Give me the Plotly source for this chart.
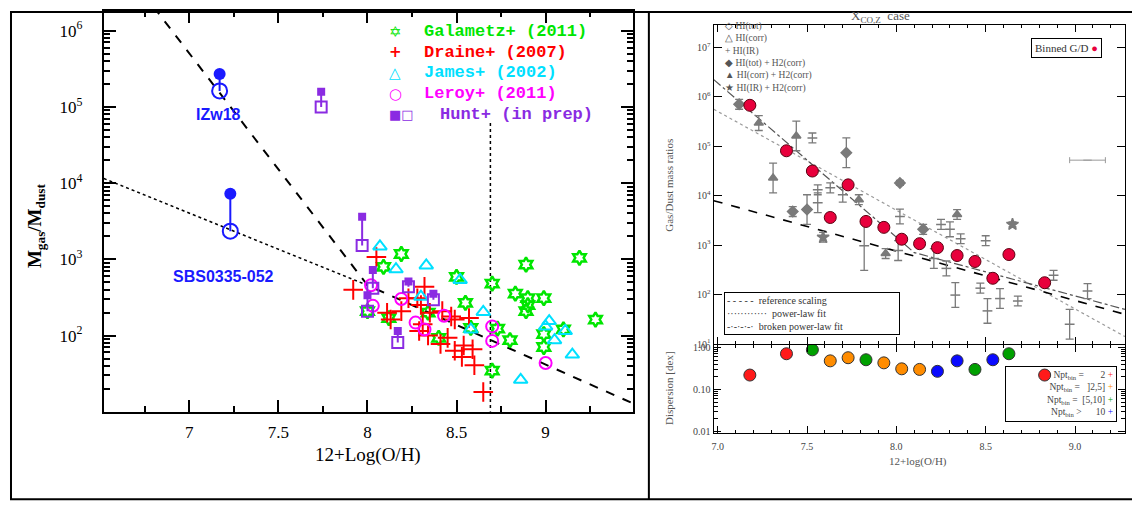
import numpy as np
import plotly.graph_objects as go

FIG_W, FIG_H = 1140, 509
PAGE_OFF = 8  # the page body margin shifts the figure; layout positions below are screen pixels

# ---------------- left panel: M_gas/M_dust vs 12+Log(O/H)  (y values are log10) ----------------
GAL_X = [8.19, 8.09, 8.50, 8.55, 8.12, 8.00, 8.34, 8.40, 8.58, 8.70, 8.70, 9.19,
         8.89, 8.83, 8.90, 8.99, 8.90, 8.89, 9.28, 8.73, 8.80, 8.99, 8.99, 9.10]
GAL_LOG = [3.07, 2.90, 2.77, 2.43, 2.23, 2.32, 2.30, 1.97, 2.10, 2.68, 1.54, 3.02,
           2.93, 2.55, 2.49, 2.49, 2.40, 2.32, 2.21, 2.09, 1.94, 2.02, 1.85, 2.08]

DRA_X = [8.05, 7.92, 8.32, 8.23, 8.28, 8.11, 8.13, 8.19, 8.30, 8.35, 8.29, 8.34, 8.31,
         8.42, 8.47, 8.49, 8.57, 8.41, 8.45, 8.49, 8.54, 8.59, 8.53, 8.60, 8.65]
DRA_LOG = [3.03, 2.60, 2.64, 2.49, 2.49, 2.30, 2.21, 2.32, 2.40, 2.30, 2.06, 2.00, 2.15,
           2.32, 2.25, 2.21, 2.23, 1.89, 1.97, 1.80, 1.87, 1.82, 1.72, 1.61, 1.26]

JAM_X = [8.07, 8.16, 8.33, 8.30, 8.52, 8.65, 8.58, 9.02, 9.05, 9.11, 9.15, 8.86, 9.00]
JAM_LOG = [3.17, 2.87, 2.92, 2.51, 2.73, 2.31, 2.08, 2.19, 1.94, 2.06, 1.75, 1.42, 2.12]

LER_X = [8.02, 8.03, 8.19, 8.27, 8.32, 8.43, 8.70, 8.70, 9.00]
LER_LOG = [2.66, 2.39, 2.48, 2.17, 2.08, 2.26, 2.12, 1.93, 1.64]

HUNT_X = [7.74, 7.97, 8.03, 8.00, 8.23, 8.37, 8.17]
HUNT_FILLED_LOG = [5.20, 3.56, 2.86, 2.53, 2.71, 2.55, 2.06]
HUNT_OPEN_LOG = [5.00, 3.18, 2.62, 2.32, 2.64, 2.47, 1.91]

BCD_NAMES = ["IZw18", "SBS0335-052"]
BCD_X = [7.17, 7.23]
BCD_FILLED_LOG = [5.43, 3.86]
BCD_OPEN_LOG = [5.21, 3.37]

BROKEN_X = [6.80, 8.00, 9.49]
BROKEN_LOG = [6.31, 2.66, 1.11]
EXTRAP_X = [6.52, 8.00]
EXTRAP_LOG = [4.06, 2.66]
SOLAR_X = 8.69
SOLAR_LOG = [4.79, 1.0]

# ---------------- right panel: Gas/Dust mass ratios (log10) ----------------
BIN_X = [7.18, 7.385, 7.53, 7.63, 7.73, 7.83, 7.93, 8.03, 8.13, 8.23, 8.34, 8.44, 8.54, 8.63, 8.83]
BIN_LOG = [5.83, 4.91, 4.50, 3.56, 4.22, 3.48, 3.36, 3.12, 3.03, 2.95, 2.79, 2.67, 2.33, 2.81, 2.24]
DISP = [0.22, 0.71, 0.88, 0.48, 0.57, 0.51, 0.43, 0.31, 0.30, 0.27, 0.48, 0.30, 0.51, 0.71, 0.22]
NPT_CLASS = ["2", "2", "5-10", "2-5", "2-5", "5-10", "2-5", "2-5", "2-5",
             ">10", ">10", "5-10", ">10", "5-10", "2"]

GREY_X = [7.12, 7.23, 7.44, 7.53, 7.72, 7.31, 7.42, 7.50, 7.56, 7.59, 7.56, 7.63, 7.70,
          7.79, 7.82, 7.94, 8.02, 8.02, 8.01, 8.34, 8.25, 8.30, 8.36, 8.50, 8.65, 8.15,
          8.21, 8.28, 8.33, 8.47, 8.51, 8.58, 8.68, 8.88, 9.07, 8.97]
GREY_LOG = [5.85, 5.47, 5.21, 5.17, 4.87, 4.36, 3.68, 3.72, 3.86, 3.16, 4.12, 4.16, 4.02,
            3.92, 2.99, 2.83, 4.26, 3.58, 2.89, 3.62, 3.42, 3.32, 3.13, 3.09, 3.42, 3.32,
            2.73, 2.53, 1.99, 2.13, 1.67, 1.92, 1.87, 2.39, 2.07, 1.40]
GREY_ERR = [0.10, 0.15, 0.30, 0.10, 0.30, 0.30, 0.10, 0.30, 0.20, 0.10, 0.10, 0.10, 0.15,
            0.10, 0.50, 0.10, 0.05, 0.15, 0.20, 0.10, 0.10, 0.15, 0.10, 0.10, 0.05, 0.10,
            0.20, 0.15, 0.25, 0.10, 0.25, 0.20, 0.10, 0.10, 0.15, 0.30]
GREY_KIND = ["diamond", "triangle-up", "triangle-up", "bar", "diamond", "triangle-up",
             "diamond", "diamond", "bar", "star", "bar", "bar", "bar", "triangle-up", "bar",
             "triangle-up", "diamond", "bar", "bar", "triangle-up", "bar", "bar", "bar", "bar",
             "star", "diamond", "bar", "bar", "bar", "bar", "bar", "bar", "bar", "bar", "bar", "bar"]
TYP_ERR_X, TYP_ERR_LOG, TYP_ERR_DX = 9.07, 4.72, 0.10

REF_X, REF_LOG = [6.978, 9.28], [3.90, 1.60]
PL_X, PL_LOG = [6.978, 9.28], [5.75, 1.15]
BPL_X, BPL_LOG = [6.978, 8.10, 9.28], [6.35, 2.85, 1.70]

GREEN, RED, CYAN, MAGENTA, PURPLE, BLUE = "#00e600", "#ff0000", "#00e0ff", "#ff00ff", "#8a2be2", "#1a1aff"
GREY = "#7a7a7a"
NPT_COLOR = {"2": "#ff1a1a", "2-5": "#ff8c00", "5-10": "#00a000", ">10": "#0a0aff"}
SERIF = "Liberation Serif"


def px(x):
    return (max(x, PAGE_OFF) - PAGE_OFF) / FIG_W


def py(y):
    return 1 - (max(y, PAGE_OFF) - PAGE_OFF) / FIG_H


def lin(logs):
    return 10 ** np.asarray(logs, dtype=float)


fig = go.Figure()

# reference lines (left)
fig.add_trace(go.Scatter(x=BROKEN_X, y=lin(BROKEN_LOG), mode="lines",
                         line=dict(color="black", width=2, dash="dash"), xaxis="x", yaxis="y"))
fig.add_trace(go.Scatter(x=EXTRAP_X, y=lin(EXTRAP_LOG), mode="lines",
                         line=dict(color="black", width=1.5, dash="dot"), xaxis="x", yaxis="y"))
fig.add_trace(go.Scatter(x=[SOLAR_X, SOLAR_X], y=lin(SOLAR_LOG), mode="lines",
                         line=dict(color="black", width=1.5, dash="dot"), xaxis="x", yaxis="y"))

fig.add_trace(go.Scatter(x=GAL_X, y=lin(GAL_LOG), mode="markers",
                         marker=dict(symbol="hexagram-open", size=11, color=GREEN, line=dict(width=2.5))))
fig.add_trace(go.Scatter(x=DRA_X, y=lin(DRA_LOG), mode="markers",
                         marker=dict(symbol="cross-thin-open", size=14, color=RED, line=dict(width=2, color=RED))))
fig.add_trace(go.Scatter(x=JAM_X, y=lin(JAM_LOG), mode="markers",
                         marker=dict(symbol="triangle-up-open", size=12, color=CYAN, line=dict(width=2))))
fig.add_trace(go.Scatter(x=LER_X, y=lin(LER_LOG), mode="markers",
                         marker=dict(symbol="circle-open", size=12, color=MAGENTA, line=dict(width=2))))

# Hunt pairs + BCD pairs: connector, filled, open
for xs, f_log, o_log, col, fsym, osym, fsize in [
    (HUNT_X, HUNT_FILLED_LOG, HUNT_OPEN_LOG, PURPLE, "square", "square-open", 8),
    (BCD_X, BCD_FILLED_LOG, BCD_OPEN_LOG, BLUE, "circle", "circle-open", 12),
]:
    cx, cy = [], []
    for x, a, b in zip(xs, f_log, o_log):
        cx += [x, x, None]
        cy += [10 ** a, 10 ** b, None]
    fig.add_trace(go.Scatter(x=cx, y=cy, mode="lines", line=dict(color=col, width=2)))
    fig.add_trace(go.Scatter(x=xs, y=lin(f_log), mode="markers",
                             marker=dict(symbol=fsym, size=fsize, color=col)))
    fig.add_trace(go.Scatter(x=xs, y=lin(o_log), mode="markers",
                             marker=dict(symbol=osym, size=fsize + 3, color=col, line=dict(width=2))))

# ---------------- right panel traces ----------
for xs, ls, dash, col, w in [(PL_X, PL_LOG, "dot", "#9a9a9a", 1.2),
                             (BPL_X, BPL_LOG, "dashdot", "#555555", 1.2),
                             (REF_X, REF_LOG, "dash", "black", 1.6)]:
    fig.add_trace(go.Scatter(x=xs, y=lin(ls), mode="lines", line=dict(color=col, width=w, dash=dash),
                             xaxis="x2", yaxis="y2"))

for kind, sym, size in [("bar", "line-ew-open", 7), ("diamond", "diamond", 8),
                        ("triangle-up", "triangle-up", 8), ("star", "star", 9)]:
    idx = [i for i, k in enumerate(GREY_KIND) if k == kind]
    gl = np.array([GREY_LOG[i] for i in idx])
    ge = np.array([GREY_ERR[i] for i in idx])
    gy = 10 ** gl
    fig.add_trace(go.Scatter(
        x=[GREY_X[i] for i in idx], y=gy, mode="markers", xaxis="x2", yaxis="y2",
        marker=dict(symbol=sym, size=size, color=GREY, line=dict(color=GREY, width=1.5)),
        error_y=dict(type="data", array=10 ** (gl + ge) - gy, arrayminus=gy - 10 ** (gl - ge),
                     color=GREY, thickness=1.3, width=4)))

fig.add_trace(go.Scatter(x=[TYP_ERR_X], y=[10 ** TYP_ERR_LOG], mode="markers", xaxis="x2", yaxis="y2",
                         marker=dict(symbol="line-ew-open", size=6, color="#999", line=dict(color="#999", width=1)),
                         error_x=dict(type="constant", value=TYP_ERR_DX, color="#999", thickness=1, width=3)))

fig.add_trace(go.Scatter(x=BIN_X, y=lin(BIN_LOG), mode="markers", xaxis="x2", yaxis="y2",
                         marker=dict(symbol="circle", size=12, color="#e8003c",
                                     line=dict(color="#5a0010", width=1))))

fig.add_trace(go.Scatter(x=BIN_X, y=DISP, mode="markers", xaxis="x3", yaxis="y3",
                         marker=dict(symbol="circle", size=12,
                                     color=[NPT_COLOR[c] for c in NPT_CLASS],
                                     line=dict(color="#333", width=1))))

# ---------------- axes ----------------
left_font = dict(family=SERIF, size=17, color="black")
common_left = dict(showline=True, linewidth=2, linecolor="black", mirror="allticks", ticks="inside",
                   tickwidth=2, tickcolor="black", showgrid=False, zeroline=False)
right_font = dict(family=SERIF, size=10, color="#444")
common_right = dict(showline=True, linewidth=1.3, linecolor="black", mirror="allticks", ticks="inside",
                    tickwidth=1, tickcolor="black", showgrid=False, zeroline=False)

fig.update_layout(
    width=FIG_W, height=FIG_H, margin=dict(l=0, r=0, t=0, b=0),
    paper_bgcolor="white", plot_bgcolor="white", showlegend=False,
    xaxis=dict(domain=[px(102), px(632)], range=[6.52, 9.49], anchor="y",
               tickvals=[7, 7.5, 8, 8.5, 9], ticktext=["7", "7.5", "8", "8.5", "9"],
               ticklen=12, tickfont=left_font, ticklabelstandoff=4,
               minor=dict(tickvals=[6.75, 7.25, 7.75, 8.25, 8.75, 9.25], ticks="inside", ticklen=6,
                          tickwidth=2, tickcolor="black", showgrid=False),
               **common_left),
    yaxis=dict(domain=[py(416), py(8)], type="log", range=[1, 6.258], anchor="x",
               tickvals=[1e2, 1e3, 1e4, 1e5, 1e6],
               ticktext=["10<sup>2</sup>", "10<sup>3</sup>", "10<sup>4</sup>", "10<sup>5</sup>", "10<sup>6</sup>"],
               ticklen=12, tickfont=left_font, ticklabelstandoff=16,
               minor=dict(tickvals=[m * 10 ** d for d in range(1, 7) for m in range(2, 10)],
                          ticks="inside", ticklen=6, tickwidth=1.5, tickcolor="black", showgrid=False),
               **common_left),
    xaxis2=dict(domain=[px(713), px(1125)], range=[6.978, 9.28], anchor="y2", showticklabels=False,
                tickvals=[7, 7.5, 8, 8.5, 9], ticklen=7,
                minor=dict(dtick=0.1, ticks="inside", ticklen=3, tickcolor="black", showgrid=False),
                **common_right),
    yaxis2=dict(domain=[py(347), py(22)], type="log", range=[1, 7.46], anchor="x2",
                tickvals=[1e1, 1e2, 1e3, 1e4, 1e5, 1e6, 1e7],
                ticktext=["10<sup>1</sup>", "10<sup>2</sup>", "10<sup>3</sup>", "10<sup>4</sup>",
                          "10<sup>5</sup>", "10<sup>6</sup>", "10<sup>7</sup>"],
                ticklen=8, tickfont=right_font, **common_right),
    xaxis3=dict(domain=[px(713), px(1125)], range=[6.978, 9.28], anchor="y3",
                tickvals=[7, 7.5, 8, 8.5, 9], ticktext=["7.0", "7.5", "8.0", "8.5", "9.0"],
                ticklen=7, tickfont=right_font, ticklabelstandoff=3,
                minor=dict(dtick=0.1, ticks="inside", ticklen=3, tickcolor="black", showgrid=False),
                **common_right),
    yaxis3=dict(domain=[py(438), py(348)], type="log", range=[-2.05, 0.06], anchor="x3",
                tickvals=[0.01, 0.1, 1], ticktext=["0.01", "0.10", "1.00"],
                ticklen=7, tickfont=right_font,
                minor=dict(tickvals=[m * 10 ** d for d in (-2, -1) for m in range(2, 10)],
                           ticks="inside", ticklen=4, tickcolor="black", showgrid=False),
                **common_right),
)

# ---------------- frame of the two-cell table ----------------
frame = dict(type="line", xref="paper", yref="paper", line=dict(color="black", width=2))
fig.add_shape(x0=px(8), x1=px(1139), y0=py(9), y1=py(9), **frame)
fig.add_shape(x0=px(8), x1=px(1139), y0=py(505), y1=py(505), **frame)
fig.add_shape(x0=px(9), x1=px(9), y0=py(8), y1=py(505), **frame)
fig.add_shape(x0=px(648), x1=px(648), y0=py(8), y1=py(505), **frame)
fig.add_shape(x0=px(1138), x1=px(1138), y0=py(8), y1=py(505), **frame)


def note(x, y, text, **kw):
    base = dict(xref="paper", yref="paper", x=px(x), y=py(y), text=text, showarrow=False,
                xanchor="center", yanchor="middle")
    base.update(kw)
    fig.add_annotation(**base)


# left panel legend
LEG_ROWS = [("✡", GREEN, "Galametz+ (2011)"), ("+", RED, "Draine+ (2007)"),
            ("△", CYAN, "James+ (2002)"), ("○", MAGENTA, "Leroy+ (2011)")]
for i, (sym, col, txt) in enumerate(LEG_ROWS):
    yy = 29 + 21 * i
    note(394, yy, f"<b>{sym}</b>", font=dict(family="DejaVu Sans", size=15, color=col))
    note(421, yy, f"<b>{txt}</b>", xanchor="left", font=dict(family="Liberation Mono", size=17, color=col))
note(400, 113, "<b>■□</b>", font=dict(family="DejaVu Sans", size=13, color=PURPLE))
note(437, 113, "<b>Hunt+ (in prep)</b>", xanchor="left", font=dict(family="Liberation Mono", size=17, color=PURPLE))

note(217, 113, "<b>" + BCD_NAMES[0] + "</b>", font=dict(family="Liberation Sans", size=16, color=BLUE))
note(222, 278, "<b>" + BCD_NAMES[1] + "</b>", font=dict(family="Liberation Sans", size=16, color=BLUE))

note(367, 460, "12+Log(O/H)", font=dict(family=SERIF, size=19, color="black"))
note(34, 226, "<b>M<sub>gas</sub>/M<sub>dust</sub></b>", textangle=-90,
     font=dict(family=SERIF, size=19, color="black"))

# right panel texts
note(880, 14, "X<sub>CO,Z</sub>  case", font=dict(family=SERIF, size=13, color="#555"))
note(668, 185, "Gas/Dust mass ratios", textangle=-90, font=dict(family=SERIF, size=11, color="#555"))
note(668, 392, "Dispersion [dex]", textangle=-90, font=dict(family=SERIF, size=11, color="#555"))
note(918, 467, "12+log(O/H)", font=dict(family=SERIF, size=11, color="#555"))

note(722, 16, "◇ HI(tot)<br>△ HI(corr)<br>+ HI(IR)<br>◆ HI(tot) + H2(corr)<br>"
              "▲ HI(corr) + H2(corr)<br>★ HI(IR) + H2(corr)",
     xanchor="left", yanchor="top", align="left", font=dict(family=SERIF, size=9.5, color="#555"))

note(1066, 46, "Binned G/D <span style='color:#e8003c'>●</span>", bordercolor="black", borderwidth=1,
     borderpad=3, bgcolor="white", font=dict(family=SERIF, size=11, color="#333"))

note(723, 316, "- - - - -  reference scaling<br>············  power-law fit<br>"
               "-·-·-·-·  broken power-law fit",
     xanchor="left", align="left", bordercolor="black", borderwidth=1, borderpad=2, bgcolor="white",
     width=170, font=dict(family=SERIF, size=10, color="#333"))

NPT_ROWS = [("=", "2", "2"), ("=", "]2,5]", "2-5"), ("=", "[5,10]", "5-10"), (">", "10", ">10")]
npt_text = "<br>".join(
    f"Npt<sub>bin</sub> {op} {val:>7} <span style='color:{NPT_COLOR[c]}'>+</span>" for op, val, c in NPT_ROWS)
note(1061, 398, npt_text, align="right", bordercolor="black", borderwidth=1, borderpad=3,
     width=104, font=dict(family=SERIF, size=9.5, color="#444"))

fig.write_html("out.html")
